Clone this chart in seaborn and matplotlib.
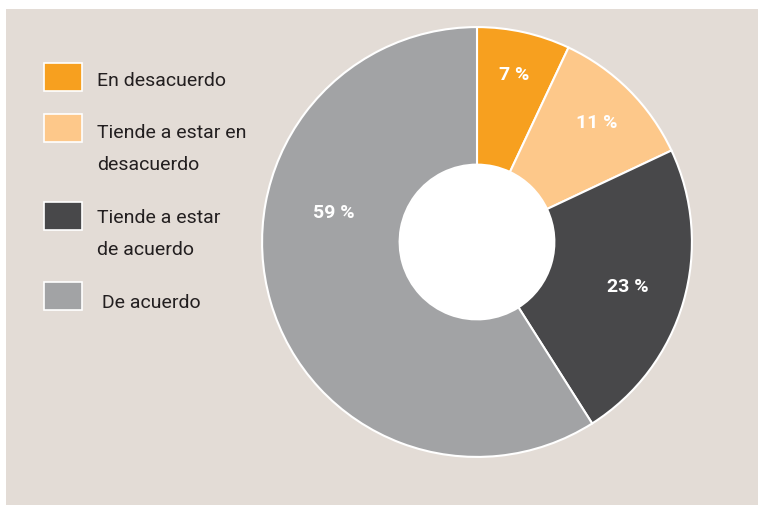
import numpy as np
import matplotlib.pyplot as plt
import matplotlib.patches as mpatches
import seaborn as sns

categories = ['En desacuerdo', 'Tiende a estar en\ndesacuerdo',
              'Tiende a estar\nde acuerdo', ' De acuerdo']
shares = [7, 11, 23, 59]
pct_labels = ['7 %', '11 %', '23 %', '59 %']
colors = ['#F7A01F', '#FDC88A', '#48484A', '#A2A3A5']

sns.set_theme(style='white')
plt.rcParams['font.family'] = ['Roboto', 'DejaVu Sans']

fig = plt.figure(figsize=(7.58, 5.06), dpi=100)
fig.patch.set_facecolor('white')
# beige panel behind everything
fig.patches.append(mpatches.Rectangle((6 / 758, 0), 752 / 758, 496 / 506,
                                      transform=fig.transFigure, facecolor='#E3DCD6',
                                      edgecolor='none', zorder=-10))

ax = fig.add_axes([(477 - 216) / 758, (506 - 243 - 216) / 506, 432 / 758, 432 / 506])
ax.set_facecolor('none')
wedges, _ = ax.pie(shares, colors=colors, startangle=90, counterclock=False,
                   radius=1, wedgeprops=dict(width=0.64, edgecolor='white', linewidth=1.5))
ax.add_patch(mpatches.Circle((0, 0), 0.36, facecolor='white', edgecolor='none'))
ax.set_xlim(-1.005, 1.005)
ax.set_ylim(-1.005, 1.005)
ax.set_aspect('equal')
ax.axis('off')

# percentage labels (the big slice label sits above its middle, as in the original)
label_r = [0.80, 0.79, 0.73, 0.68]
label_ang = []
for w in wedges:
    label_ang.append((w.theta1 + w.theta2) / 2)
label_ang[3] = 168
for txt, r, a in zip(pct_labels, label_r, label_ang):
    ax.text(r * np.cos(np.radians(a)), r * np.sin(np.radians(a)), txt,
            ha='center', va='center', color='white', fontsize=14, fontweight='bold')

# legend drawn by hand to match the stacked layout
box_tops = [64, 115, 203, 283]
baselines = [86, 138, 223, 308]
for lab, col, top, base in zip(categories, colors, box_tops, baselines):
    fig.patches.append(mpatches.Rectangle((44 / 758, 1 - (top + 28) / 506), 38 / 758, 28 / 506,
                                          transform=fig.transFigure, facecolor=col,
                                          edgecolor='white', linewidth=1.2))
    for i, line in enumerate(lab.split('\n')):
        fig.text(97 / 758, 1 - (base + 32 * i) / 506, line, ha='left', va='baseline',
                 fontsize=14, color='#231F20')

fig.savefig('out.png', dpi=100)
